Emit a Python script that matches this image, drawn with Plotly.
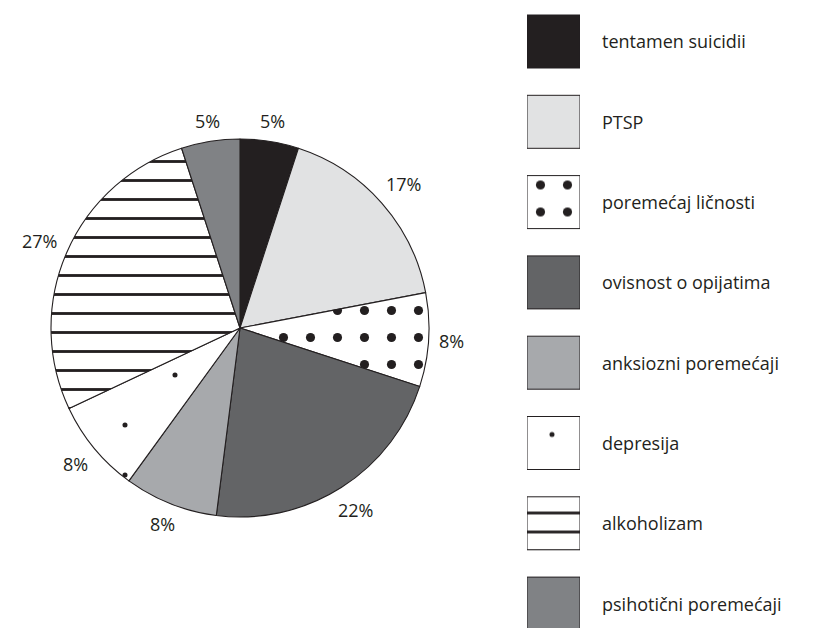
import math
import plotly.graph_objects as go

# Diagnoses and their shares (%)
categories = [
    "tentamen suicidii",
    "PTSP",
    "poremećaj ličnosti",
    "ovisnost o opijatima",
    "anksiozni poremećaji",
    "depresija",
    "alkoholizam",
    "psihotični poremećaji",
]
shares = [5, 17, 8, 22, 8, 8, 27, 5]

# Fill styles per category
fill_colors = ["#231f20", "#e1e2e3", "#ffffff", "#636466", "#a7a9ac", "#ffffff", "#ffffff", "#808285"]
pattern_shapes = ["", "", ".", "", "", ".", "-", ""]
pattern_sizes = [10, 10, 27, 10, 10, 50, 19, 10]
pattern_solidity = [0.3, 0.3, 0.09, 0.3, 0.3, 0.008, 0.15, 0.3]

INK = "#231f20"
FONT = "Open Sans"

W, H = 818, 628
cx, cy, r = 240, 328, 189

fig = go.Figure()

fig.add_trace(go.Pie(
    labels=categories,
    values=shares,
    sort=False,
    direction="clockwise",
    rotation=0,
    textinfo="none",
    marker=dict(
        colors=fill_colors,
        line=dict(color=INK, width=1.1),
        pattern=dict(
            shape=pattern_shapes,
            size=pattern_sizes,
            solidity=pattern_solidity,
            fgcolor=[INK] * len(categories),
            bgcolor=fill_colors,
            fillmode="replace",
        ),
    ),
    domain=dict(x=[(cx - r) / W, (cx + r) / W], y=[1 - (cy + r) / H, 1 - (cy - r) / H]),
    automargin=False,
    showlegend=False,
    hoverinfo="label+value",
))

# Percentage labels just outside each slice, centred on the slice's mid angle
total = sum(shares)
gap = 10
acc = 0
for v in shares:
    mid = (acc + v / 2) / total * 2 * math.pi
    acc += v
    ux, uy = math.sin(mid), -math.cos(mid)
    label = f"{v}%"
    tw = 10 * (len(label) - 1) + 14
    th = 17
    dist = r + gap + abs(ux) * tw / 2 + abs(uy) * th / 2
    px, py = cx + ux * dist, cy + uy * dist
    fig.add_annotation(
        x=px / W, y=1 - py / H, xref="paper", yref="paper",
        xanchor="center", yanchor="middle",
        text=label, showarrow=False,
        font=dict(family=FONT, size=18, color=INK),
    )

# Legend drawn as patterned swatches on a hidden axis, one trace per category
for i, name in enumerate(categories):
    pat = dict(shape=pattern_shapes[i], fillmode="replace", bgcolor=fill_colors[i], fgcolor=INK)
    if pattern_shapes[i]:
        pat.update(size=pattern_sizes[i], solidity=pattern_solidity[i])
    fig.add_trace(go.Bar(
        x=[1],
        y=[i],
        base=0,
        orientation="h",
        width=0.66,
        marker=dict(color=fill_colors[i], line=dict(color=INK, width=1), pattern=pat),
        xaxis="x2",
        yaxis="y2",
        showlegend=False,
        name=name,
        hoverinfo="name",
    ))
    fig.add_annotation(
        x=600 / W, xref="paper", xanchor="left",
        y=i, yref="y2", yanchor="middle",
        text=name, showarrow=False,
        font=dict(family=FONT, size=18, color=INK),
    )

# Legend rows: first row centred 41.5 px from the top, 80.3 px apart
row_top, row_step = 41.5, 80.3
area_top = 9.5
fig.update_layout(
    width=W,
    height=H,
    margin=dict(l=0, r=0, t=0, b=0),
    paper_bgcolor="white",
    plot_bgcolor="white",
    xaxis2=dict(domain=[527 / W, 580 / W], range=[0, 1], visible=False, fixedrange=True),
    yaxis2=dict(domain=[0, 1 - area_top / H],
                range=[(H - row_top) / row_step, (area_top - row_top) / row_step],
                visible=False, fixedrange=True, anchor="x2"),
    barmode="overlay",
)

fig.write_html("out.html")
